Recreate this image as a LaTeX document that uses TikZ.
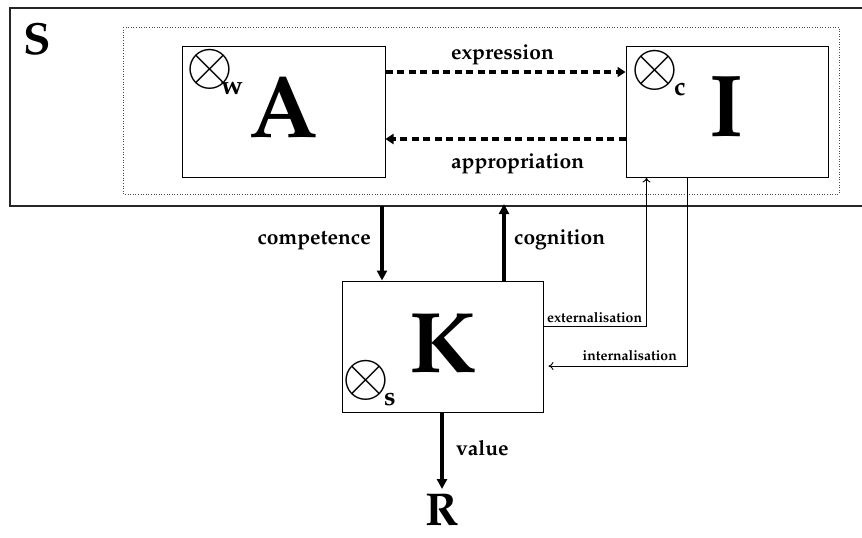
\documentclass[tikz,border=0pt]{standalone}
\usepackage[T1]{fontenc}
\usepackage{mathpazo}
\usetikzlibrary{arrows.meta,calc}
\begin{document}
\begin{tikzpicture}[x=1pt,y=-1pt,
  box/.style={draw,line width=1pt,minimum width=#1,minimum height=131pt,inner sep=0pt},
  big/.style={font=\fontsize{88}{88}\selectfont\bfseries,anchor=base,inner sep=0pt},
  sub/.style={font=\fontsize{26}{26}\selectfont\bfseries,anchor=base,inner sep=0pt},
  lbl/.style={font=\fontsize{21}{21}\selectfont\bfseries,inner sep=0pt},
  small/.style={font=\fontsize{14}{14}\selectfont\bfseries,inner sep=0pt},
  dotarrow/.style={line width=4pt,dash pattern=on 7pt off 4.5pt,-{Triangle[length=8pt,width=10pt]}},
  thick arrow/.style={line width=4pt,-{Triangle[length=10pt,width=10pt]}},
  thin arrow/.style={line width=0.9pt,-{To[length=5pt,width=8pt]}},
  otim/.style={font=\fontsize{10}{10}\selectfont,inner sep=0pt}]
\useasboundingbox (0,0) rectangle (862,538);
% outer S frame (open on the right)
\draw[line width=1.4pt,color=black!85] (862,8) -- (10,8) -- (10,206) -- (862,206);
\node[font=\fontsize{45}{45}\selectfont\bfseries,anchor=base,inner sep=0pt] (S) at (37,54) {S};
% dotted frame
\draw[dotted,line width=0.6pt,color=black!70] (123,27) rectangle (839,194);
% boxes
\node[box=203pt] (A) at (283.5,111.5) {};
\node[box=202pt] (I) at (727,111.5) {};
\node[box=201pt] (K) at (442.5,346.5) {};
% big letters
\node[big] (Al) at (284,137) {A};
\node[big] (Il) at (727,136) {I};
\node[big,font=\fontsize{86}{86}\selectfont\bfseries] (Kl) at (443,372) {K};
\node[font=\fontsize{46}{46}\selectfont\bfseries,anchor=base,inner sep=0pt] (R) at (442.5,525) {R};
% otimes
\node[otim] (ow) at (209.5,69) {\scalebox{5.8}{$\otimes$}};
\node[sub] (w) at (232,94) {w};
\node[otim] (oc) at (654.5,70) {\scalebox{5.8}{$\otimes$}};
\node[sub] (c) at (680,95) {c};
\node[otim] (os) at (366,380) {\scalebox{5.8}{$\otimes$}};
\node[sub] (s) at (390,405) {s};
% expression / appropriation
\coordinate (ea) at (A.east |- 0,72);
\coordinate (ei) at (I.west |- 0,72);
\draw[dotarrow] (ea) -- (ei);
\coordinate (pa) at (A.east |- 0,139);
\coordinate (pi) at (I.west |- 0,139);
\draw[dotarrow] (pi) -- (pa);
\node[lbl,anchor=base west] (expr) at (451,59) {expression};
\node[lbl,anchor=base west] (appr) at (451,168) {appropriation};
% competence / cognition
\coordinate (cs) at (382,206);
\draw[thick arrow] (cs) -- (cs |- K.north);
\node[lbl,anchor=base east] (comp) at (371,244) {competence};
\coordinate (gs) at (504,204);
\draw[thick arrow] (gs |- K.north) -- (gs);
\node[lbl,anchor=base west] (cogn) at (514,244) {cognition};
% externalisation / internalisation
\coordinate (xc) at (646.5,326);
\draw[thin arrow] (K.east |- xc) -- (xc) -- (xc |- I.south);
\node[small,anchor=base west] (ext) at (547,322) {externalisation};
\coordinate (ic) at (687,366);
\draw[thin arrow] (ic |- I.south) -- (ic) -- ($(K.east |- ic)+(5,0)$);
\node[small,anchor=base east] (int) at (677,360) {internalisation};
% value
\draw[thick arrow] (K.south -| 442,0) -- (442,489);
\node[lbl,anchor=base west] (val) at (456,455) {value};
\end{tikzpicture}
\end{document}
